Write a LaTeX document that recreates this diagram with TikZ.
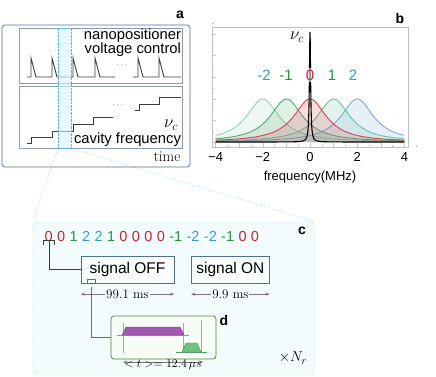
\documentclass[tikz,border=0pt]{standalone}
\usepackage{fontspec}
\setsansfont{Liberation Sans}
\usetikzlibrary{positioning,arrows.meta,calc}
\definecolor{aEdge}{RGB}{80,110,160}
\definecolor{aInner}{RGB}{135,155,185}
\definecolor{hlFill}{RGB}{215,245,255}
\definecolor{hlEdge}{RGB}{80,180,240}
\definecolor{cFill}{RGB}{242,252,252}
\definecolor{boxEdge}{RGB}{80,110,150}
\definecolor{boxFill}{RGB}{247,253,253}
\definecolor{dGreen}{RGB}{75,135,50}
\definecolor{dFill}{RGB}{246,253,246}
\definecolor{sqRed}{RGB}{210,30,45}
\definecolor{sqGreen}{RGB}{30,150,60}
\definecolor{sqBlue}{RGB}{45,160,195}
\definecolor{pulsePurple}{RGB}{165,85,180}
\definecolor{pulseGreen}{RGB}{110,195,125}
\definecolor{lzA}{RGB}{150,210,180}
\definecolor{lzB}{RGB}{80,170,110}
\definecolor{lzC}{RGB}{230,60,75}
\definecolor{lzD}{RGB}{100,195,165}
\definecolor{lzE}{RGB}{120,170,220}
\definecolor{arrGray}{RGB}{120,120,120}
\definecolor{traceGray}{RGB}{60,60,60}
\definecolor{dotsBlue}{RGB}{40,60,160}
\tikzset{
    base/.style={align=center},
    sans/.style={base, font=\sffamily\fontsize{14.8}{14}\selectfont, inner sep=1pt},
    serif/.style={base, font=\rmfamily\fontsize{13}{13}\selectfont, inner sep=1pt},
    mathlab/.style={font=\fontsize{17}{17}\selectfont, inner sep=0pt},
    panelmark/.style={font=\sffamily\bfseries\fontsize{14}{14}\selectfont, inner sep=0pt},
    apanel/.style={rectangle, rounded corners=3pt, draw=aEdge, thick, fill=white},
    track/.style={rectangle, draw=aInner, inner sep=0pt},
    trace/.style={draw=traceGray, line width=0.9pt},
    dotsmark/.style={font=\fontsize{9}{9}\selectfont, text=dotsBlue, inner sep=0pt},
    band/.style={rectangle, draw=hlEdge, densely dotted, fill=hlFill, fill opacity=0.6, inner sep=0pt},
    zoomline/.style={draw=hlEdge, densely dotted},
    cpanel/.style={rectangle, rounded corners=6pt, draw=hlEdge, densely dotted, fill=cFill},
    digit/.style={font=\sffamily\fontsize{14.5}{14}\selectfont, inner sep=0pt, anchor=base west},
    sigbox/.style={base, font=\sffamily\fontsize{15.5}{15}\selectfont, rectangle, draw=boxEdge,
                   fill=boxFill, minimum height=27pt, inner sep=2pt},
    spanarrow/.style={<->, >={Stealth[length=4pt,width=3pt]}, draw=arrGray},
    dpanel/.style={rectangle, rounded corners=3pt, draw=dGreen, thick, fill=dFill},
    frametick/.style={draw=gray!45, line width=0.4pt},
    ticklab/.style={font=\sffamily\fontsize{13}{13}\selectfont, inner sep=0pt},
    lzlab/.style={font=\sffamily\fontsize{15}{15}\selectfont, fill=white, fill opacity=0.6,
                  text opacity=1, inner sep=2pt}
}

\begin{document}
\begin{tikzpicture}[x=1pt,y=-1pt]
  \useasboundingbox (0,0) rectangle (436,377);

  % a
  \node[apanel, minimum width=188pt, minimum height=142pt] (panelA) at (96,96) {};
  \node[panelmark] (labA) at (180,15) {a};
  \node[track, minimum width=163pt, minimum height=55pt] (ctrlBox) at (100.5,55.5) {};
  \node[track, minimum width=163pt, minimum height=62pt] (cavBox) at (100.5,117) {};
  \node[sans, anchor=north east, align=right] (ctrlText) at (ctrlBox.north east) {nanopositioner\\voltage control};
  \node[sans, anchor=south east] (cavText) at (cavBox.south east) {cavity frequency};
  \node[mathlab] (cavNu) at (171,125) {$\nu_c$};
  \node[serif, font=\rmfamily\fontsize{15}{15}\selectfont] (timeText) at (167,157) {time};
  \draw[trace] (27,77) foreach \p in {31,52,73,95} { -- (\p,77) -- (\p,58) -- ({\p+5},77) } -- (115,77);
  \draw[trace] (133,77) foreach \p in {138,159} { -- (\p,77) -- (\p,58) -- ({\p+5},77) } -- (181,77);
  \draw[trace] (27,143) -- (31,143) -- (31,137) -- (52,137) -- (52,131) -- (73,131) -- (73,124)
               -- (93,124) -- (93,117) -- (113,117);
  \draw[trace] (135,110) -- (139,110) -- (139,104) -- (159,104) -- (159,97) -- (181,97);
  \node[dotsmark] (dotsTop) at (122,65) {$\cdots$};
  \node[dotsmark] (dotsBot) at (118,105) {$\cdots$};
  \node[band, minimum width=13pt, minimum height=120pt] (zoomBand) at (64.5,88) {};

  % b
  \draw[gray!50] (212,27) rectangle (408,147);
  \foreach \k in {0,...,5} {
    \draw[frametick] (212,{142-21.6*\k}) -- (216,{142-21.6*\k});
    \draw[frametick] (212,{131.2-21.6*\k}) -- (214,{131.2-21.6*\k});
  }
  \foreach \v in {-4,...,4} {
    \draw[frametick] ({310+23.6*\v},147) -- ({310+23.6*\v},143);
    \draw[frametick] ({321.8+23.6*\v},147) -- ({321.8+23.6*\v},145);
  }
  \node[panelmark] (labB) at (400,18) {b};
  \begin{scope}[shift={(310,142)}, x=23.6pt, y=43pt]
    \foreach \m/\col in {-2/lzA,2/lzE,-1/lzB,1/lzD,0/lzC} {
      \fill[\col, fill opacity=0.18] (-4,0) -- plot[domain=-4:4, samples=120, smooth]
            (\x,{0.72/((\x-(\m))^2+0.72)}) -- (4,0) -- cycle;
      \draw[\col, line width=0.9pt] plot[domain=-4:4, samples=120, smooth]
            (\x,{0.72/((\x-(\m))^2+0.72)});
    }
    \draw[black, line width=1.1pt] plot[domain=-4:4, samples=801] (\x,{2.56*0.0009/(\x*\x+0.0009)});
  \end{scope}
  \node[lzlab, text=sqBlue] (lzm2) at (264,75) {-2};
  \node[lzlab, text=sqGreen] (lzm1) at (286,75) {-1};
  \node[lzlab, text=sqRed] (lz0) at (310,75) {0};
  \node[lzlab, text=sqGreen] (lzp1) at (332,75) {1};
  \node[lzlab, text=sqBlue] (lzp2) at (353,75) {2};
  \node[mathlab, font=\fontsize{18}{18}\selectfont] (specNu) at (297,37) {$\nu_c$};
  \foreach \v/\t [count=\k] in {-4/−4,-2/−2,0/0,2/2,4/4}
    \node[ticklab] (xt\k) at ({310+23.6*\v},157) {\t};
  \node[ticklab] (xLabel) at (310,177) {frequency(MHz)};

  % c
  \node[cpanel, minimum width=282pt, minimum height=153pt] (panelC) at (174,298.5) {};
  \draw[zoomline] (zoomBand.south west) -- (panelC.north west);
  \draw[zoomline] (zoomBand.south east) -- (panelC.north east);
  \node[panelmark] (labC) at (302,231) {c};
  \node[digit, text=sqRed] (d1) at (44.5,241) {0};
  \foreach \v/\c [count=\i from 2] in {0/sqRed,1/sqGreen,2/sqBlue,2/sqBlue,1/sqGreen,0/sqRed,0/sqRed,
      0/sqRed,0/sqRed,-1/sqGreen,-2/sqBlue,-2/sqBlue,-1/sqGreen,0/sqRed,0/sqRed} {
    \pgfmathtruncatemacro\j{\i-1}
    \node[digit, text=\c] (d\i) at ([xshift=4pt]d\j.base east) {\v};
  }
  \node[sigbox, minimum width=93pt] (sigOff) at (127.5,269.5) {signal OFF};
  \node[sigbox, minimum width=78pt, right=17pt of sigOff] (sigOn) {signal ON};
  \draw[traceGray] ([xshift=-1.5pt,yshift=-4pt]d1.south west) -- ([xshift=-1.5pt,yshift=1pt]d1.south west)
        -- ([xshift=1.5pt,yshift=1pt]d1.south east) -- ([xshift=1.5pt,yshift=-4pt]d1.south east);
  \draw[traceGray] ([yshift=1pt]d1.south) |- (sigOff.west);
  \draw[spanarrow] ([yshift=-11pt]sigOff.south west) -- ([yshift=-11pt]sigOff.south east)
        node[midway, serif, fill=cFill] (offTime) {99.1 ms};
  \draw[spanarrow] ([yshift=-11pt]sigOn.south west) -- ([yshift=-11pt]sigOn.south east)
        node[midway, serif, fill=cFill] (onTime) {9.9 ms};
  \node[mathlab, font=\fontsize{15}{15}\selectfont] (repeat) at (293,358) {$\times N_r$};

  % d
  \node[dpanel, minimum width=105pt, minimum height=43pt] (panelD) at (163.5,337.5) {};
  \node[panelmark] (labD) at (224,320) {d};
  \draw[dGreen, thick] ([xshift=7pt]sigOff.south west) -- ++(0,4pt) -- ++(8pt,0) -- ++(0,-4pt);
  \draw[dGreen, thick] ([xshift=11pt,yshift=-4pt]sigOff.south west) |- (panelD.west);
  \draw[gray!70] (123,323) -- (123,353);
  \draw[gray!70] (183,323) -- (183,353);
  \draw[gray!70] (201,320) -- (201,353);
  \draw[pulsePurple!80] (117,335) -- (189,335);
  \filldraw[fill=pulsePurple, draw=pulsePurple!70!black] (122,335) -- (126,327) -- (180,327) -- (184,335) -- cycle;
  \draw[pulseGreen!80!black] (176,352) -- (207,352);
  \filldraw[fill=pulseGreen, draw=pulseGreen!70!black] (182,352) -- (186,343) -- (197,343) -- (201,352) -- cycle;
  \coordinate (tL) at (123,362);
  \coordinate (tR) at (203,362);
  \draw[spanarrow] (tL) -- (tR);
  \node[serif, below=0pt of $(tL)!0.5!(tR)$, yshift=3pt] (meanT) {$<t>=12.4\,\mu s$};
\end{tikzpicture}
\end{document}
